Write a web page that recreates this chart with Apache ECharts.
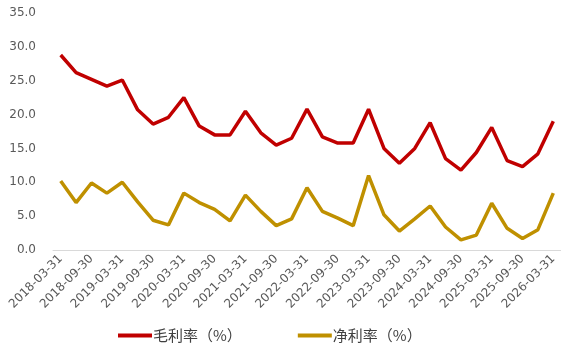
<!DOCTYPE html>
<html><head><meta charset="utf-8">
<script src="https://cdn.jsdelivr.net/npm/echarts@6/dist/echarts.min.js"></script>
<style>html,body{margin:0;padding:0;background:#fff}#c{width:561px;height:349px}</style>
</head><body><div id="c"></div>
<script>
const categories = ['2018-03-31','2018-06-30','2018-09-30','2018-12-31','2019-03-31','2019-06-30','2019-09-30','2019-12-31','2020-03-31','2020-06-30','2020-09-30','2020-12-31','2021-03-31','2021-06-30','2021-09-30','2021-12-31','2022-03-31','2022-06-30','2022-09-30','2022-12-31','2023-03-31','2023-06-30','2023-09-30','2023-12-31','2024-03-31','2024-06-30','2024-09-30','2024-12-31','2025-03-31','2025-06-30','2025-09-30','2025-12-31','2026-03-31'];
const grossMargin = [28.8,26.2,25.2,24.2,25.1,20.7,18.6,19.6,22.5,18.3,17.0,17.0,20.5,17.3,15.5,16.5,20.8,16.7,15.8,15.8,20.8,15.0,12.8,15.0,18.8,13.5,11.8,14.4,18.1,13.2,12.3,14.2,19.0];
const netMargin = [10.2,7.0,9.9,8.4,10.0,7.1,4.4,3.7,8.4,7.0,6.0,4.3,8.1,5.7,3.6,4.6,9.2,5.7,4.7,3.6,11.0,5.2,2.8,4.6,6.5,3.4,1.5,2.2,6.9,3.2,1.7,3.0,8.4];
const seriesNames = ['毛利率（%）','净利率（%）'];
const yTicks = {min: 0, max: 35, interval: 5};

const chart = echarts.init(document.getElementById('c'));
chart.setOption({
  animation: false,
  grid: {left: 53, top: 13, width: 511, height: 237, containLabel: false},
  legend: {
    data: seriesNames, left: 118, top: 328, padding: 0, icon: 'rect', itemWidth: 34, itemHeight: 4, itemGap: 56,
    textStyle: {fontFamily: 'Noto Sans CJK SC', fontSize: 15, color: '#404040', padding: [0, 0, 0, -4]}
  },
  xAxis: {
    type: 'category', data: categories, boundaryGap: true,
    axisLine: {lineStyle: {color: '#D9D9D9'}},
    axisTick: {interval: 0, length: 5, lineStyle: {color: '#D9D9D9'}},
    axisLabel: {interval: 1, rotate: 45, margin: 7, color: '#595959', fontFamily: 'DejaVu Sans', fontSize: 12}
  },
  yAxis: {
    type: 'value', min: yTicks.min, max: yTicks.max, interval: yTicks.interval,
    splitLine: {show: false}, axisLine: {show: false}, axisTick: {show: false},
    axisLabel: {margin: 17, color: '#595959', fontFamily: 'DejaVu Sans', fontSize: 12, formatter: v => v.toFixed(1)}
  },
  series: [
    {name: seriesNames[0], type: 'line', data: grossMargin, symbol: 'none', lineStyle: {width: 3.5, color: '#C00000'}, itemStyle: {color: '#C00000'}},
    {name: seriesNames[1], type: 'line', data: netMargin, symbol: 'none', lineStyle: {width: 3.5, color: '#BF9000'}, itemStyle: {color: '#BF9000'}}
  ]
});
</script></body></html>
